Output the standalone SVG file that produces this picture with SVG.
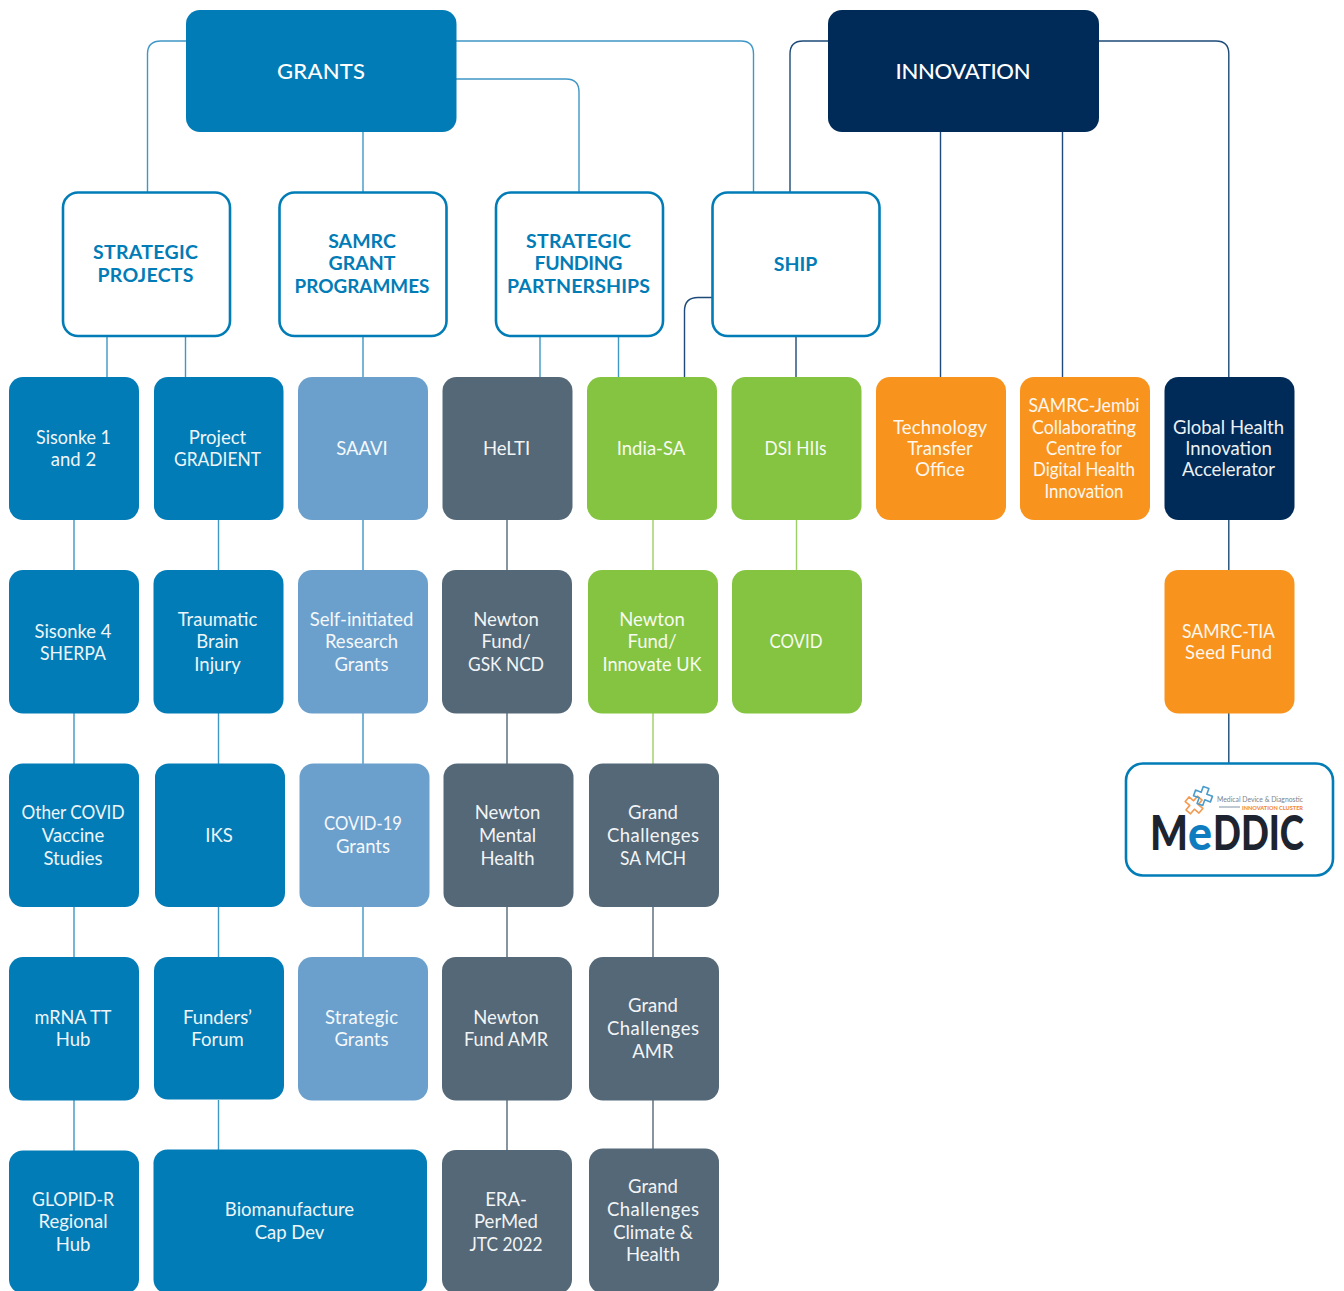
<svg xmlns="http://www.w3.org/2000/svg" width="1344" height="1291" viewBox="0 0 1344 1291">
<style>
text{font-family:"Lato","Noto Sans",sans-serif;text-anchor:middle}
.t{font-size:18.5px;fill:#fff;opacity:.93}
.h{font-size:19.5px;font-weight:700;fill:#027cb6}
.top{font-size:22px;font-weight:500;fill:#fff}
.frame{fill:#fff;stroke:#027cb6;stroke-width:2.6}
.blue{fill:#027cb6}.sky{fill:#6ba0cd}.slate{fill:#546878}.green{fill:#84c441}.orange{fill:#f8941e}.navy{fill:#002b58}
.c{fill:none;stroke-width:1.4}
.cb{stroke:#3f97c6}.cn{stroke:#1d4a78}.cg{stroke:#9ccf66}.cs{stroke:#546878}
.logo{text-anchor:start;font-size:48px;font-weight:900}
</style>
<g id="connectors">
<g class="c cb">
<path d="M186 41H161Q147.500 41 147.500 54V192"/>
<path d="M363 132V192"/>
<path d="M456 79H566Q579 79 579 92V192"/>
<path d="M456 41H741Q753.500 41 753.500 54V192"/>
<path d="M107 336V377M185.500 336V377M363 336V377M540 336V377M618.500 336V377"/>
<path d="M74 520V570M74 713V764M74 907V957M74 1100V1151"/>
<path d="M218.500 520V570M218.500 713V764M218.500 907V957M218.500 1100V1150"/>
<path d="M363 520V570M363 713V764M363 907V957"/>
</g>
<g class="c cn">
<path d="M828 41H803Q790 41 790 54V192"/>
<path d="M940.500 132V377M1062.500 132V377"/>
<path d="M1099 41H1216Q1228.800 41 1228.800 54V377"/>
<path d="M712 297.500H698Q684.500 297.500 684.500 311V377"/>
<path d="M796 336V377"/>
<path d="M1228.800 520V570M1228.800 713V763"/>
</g>
<g class="c cs">
<path d="M507 520V570M507 713V764M507 907V957M507 1100V1150"/>
<path d="M653 907V957M653 1100V1149"/>
</g>
<g class="c cg">
<path d="M653 520V570M653 713V764M796.500 520V570"/>
</g>
</g>

<g id="grants"><rect class="blue" x="186" y="10" width="270.500" height="122" rx="14"/><text class="top" x="321" y="79" textLength="88">GRANTS</text></g>
<g id="innovation"><rect class="navy" x="828" y="10" width="271" height="122" rx="14"/><text class="top" x="963" y="79" textLength="135">INNOVATION</text></g>

<g id="strategic-projects"><rect class="frame" x="63" y="192.500" width="167" height="143.500" rx="15"/><text class="h" x="145.500" y="259" textLength="105">STRATEGIC</text><text class="h" x="145.500" y="282" textLength="96">PROJECTS</text></g>
<g id="samrc-grant-programmes"><rect class="frame" x="279.500" y="192.500" width="167" height="143.500" rx="15"/><text class="h" x="362" y="248">SAMRC</text><text class="h" x="362" y="270">GRANT</text><text class="h" x="362" y="293" textLength="135" lengthAdjust="spacingAndGlyphs">PROGRAMMES</text></g>
<g id="strategic-funding-partnerships"><rect class="frame" x="496" y="192.500" width="167" height="143.500" rx="15"/><text class="h" x="578.500" y="248" textLength="105">STRATEGIC</text><text class="h" x="578.500" y="270" textLength="88">FUNDING</text><text class="h" x="578.500" y="293" textLength="143">PARTNERSHIPS</text></g>
<g id="ship"><rect class="frame" x="712.500" y="192.500" width="167" height="143.500" rx="15"/><text class="h" x="795.500" y="271">SHIP</text></g>

<g id="sisonke-1"><rect class="blue" x="9" y="377" width="130" height="143" rx="14"/><text class="t" x="73.500" y="444" textLength="75" lengthAdjust="spacingAndGlyphs">Sisonke 1</text><text class="t" x="73.500" y="466">and 2</text></g>
<g id="project-gradient"><rect class="blue" x="154" y="377" width="129.500" height="143" rx="14"/><text class="t" x="217.500" y="444">Project</text><text class="t" x="217.500" y="466" textLength="87" lengthAdjust="spacingAndGlyphs">GRADIENT</text></g>
<g id="saavi"><rect class="sky" x="298" y="377" width="130" height="143" rx="14"/><text class="t" x="362" y="455">SAAVI</text></g>
<g id="helti"><rect class="slate" x="442.500" y="377" width="130" height="143" rx="14"/><text class="t" x="506.500" y="455">HeLTI</text></g>
<g id="india-sa"><rect class="green" x="587" y="377" width="130" height="143" rx="14"/><text class="t" x="651" y="455">India-SA</text></g>
<g id="dsi-hiis"><rect class="green" x="731.500" y="377" width="130" height="143" rx="14"/><text class="t" x="795.500" y="455" textLength="62" lengthAdjust="spacingAndGlyphs">DSI HIIs</text></g>
<g id="tto"><rect class="orange" x="876" y="377" width="130" height="143" rx="14"/><text class="t" x="940" y="434" textLength="94">Technology</text><text class="t" x="940" y="455">Transfer</text><text class="t" x="940" y="476">Office</text></g>
<g id="samrc-jembi"><rect class="orange" x="1020" y="377" width="130" height="143" rx="14"/><text class="t" x="1084" y="412" textLength="111" lengthAdjust="spacingAndGlyphs">SAMRC-Jembi</text><text class="t" x="1084" y="434" textLength="104" lengthAdjust="spacingAndGlyphs">Collaborating</text><text class="t" x="1084" y="455" textLength="76" lengthAdjust="spacingAndGlyphs">Centre for</text><text class="t" x="1084" y="476" textLength="102" lengthAdjust="spacingAndGlyphs">Digital Health</text><text class="t" x="1084" y="498" textLength="79" lengthAdjust="spacingAndGlyphs">Innovation</text></g>
<g id="ghia"><rect class="navy" x="1164.500" y="377" width="130" height="143" rx="14"/><text class="t" x="1228.500" y="434">Global Health</text><text class="t" x="1228.500" y="455">Innovation</text><text class="t" x="1228.500" y="476">Accelerator</text></g>

<g id="sisonke-4"><rect class="blue" x="9" y="570" width="130" height="143.500" rx="14"/><text class="t" x="73" y="638" textLength="77" lengthAdjust="spacingAndGlyphs">Sisonke 4</text><text class="t" x="73" y="660" textLength="66" lengthAdjust="spacingAndGlyphs">SHERPA</text></g>
<g id="tbi"><rect class="blue" x="153.500" y="570" width="130" height="143.500" rx="14"/><text class="t" x="217.500" y="626">Traumatic</text><text class="t" x="217.500" y="648">Brain</text><text class="t" x="217.500" y="671">Injury</text></g>
<g id="self-initiated"><rect class="sky" x="298" y="570" width="130" height="143.500" rx="14"/><text class="t" x="361.500" y="626">Self-initiated</text><text class="t" x="361.500" y="648">Research</text><text class="t" x="361.500" y="671">Grants</text></g>
<g id="newton-gsk"><rect class="slate" x="442" y="570" width="130" height="143.500" rx="14"/><text class="t" x="506" y="626">Newton</text><text class="t" x="506" y="648">Fund/</text><text class="t" x="506" y="671" textLength="76" lengthAdjust="spacingAndGlyphs">GSK NCD</text></g>
<g id="newton-innovate"><rect class="green" x="588" y="570" width="130" height="143.500" rx="14"/><text class="t" x="652" y="626">Newton</text><text class="t" x="652" y="648">Fund/</text><text class="t" x="652" y="671" textLength="99" lengthAdjust="spacingAndGlyphs">Innovate UK</text></g>
<g id="covid"><rect class="green" x="732" y="570" width="130" height="143.500" rx="14"/><text class="t" x="796" y="648" textLength="53" lengthAdjust="spacingAndGlyphs">COVID</text></g>
<g id="seed-fund"><rect class="orange" x="1164.500" y="570" width="130" height="143.500" rx="14"/><text class="t" x="1228.500" y="638" textLength="93" lengthAdjust="spacingAndGlyphs">SAMRC-TIA</text><text class="t" x="1228.500" y="659" textLength="87">Seed Fund</text></g>

<g id="other-covid"><rect class="blue" x="9" y="763.500" width="130" height="143.500" rx="14"/><text class="t" x="73" y="819" textLength="103" lengthAdjust="spacingAndGlyphs">Other COVID</text><text class="t" x="73" y="842">Vaccine</text><text class="t" x="73" y="865">Studies</text></g>
<g id="iks"><rect class="blue" x="155" y="763.500" width="130" height="143.500" rx="14"/><text class="t" x="219" y="842">IKS</text></g>
<g id="covid-19"><rect class="sky" x="299.500" y="763.500" width="130" height="143.500" rx="14"/><text class="t" x="363" y="830" textLength="78" lengthAdjust="spacingAndGlyphs">COVID-19</text><text class="t" x="363" y="853">Grants</text></g>
<g id="newton-mental"><rect class="slate" x="443.500" y="763.500" width="130" height="143.500" rx="14"/><text class="t" x="507.500" y="819">Newton</text><text class="t" x="507.500" y="842">Mental</text><text class="t" x="507.500" y="865">Health</text></g>
<g id="gc-mch"><rect class="slate" x="589" y="763.500" width="130" height="143.500" rx="14"/><text class="t" x="653" y="819">Grand</text><text class="t" x="653" y="842" textLength="92">Challenges</text><text class="t" x="653" y="865" textLength="66" lengthAdjust="spacingAndGlyphs">SA MCH</text></g>

<g id="mrna"><rect class="blue" x="9" y="957" width="130" height="143.500" rx="14"/><text class="t" x="73" y="1024" textLength="77" lengthAdjust="spacingAndGlyphs">mRNA TT</text><text class="t" x="73" y="1046">Hub</text></g>
<g id="funders"><rect class="blue" x="154" y="957" width="130" height="142.500" rx="14"/><text class="t" x="217.500" y="1024">Funders’</text><text class="t" x="217.500" y="1046">Forum</text></g>
<g id="strategic-grants"><rect class="sky" x="298" y="957" width="130" height="143.500" rx="14"/><text class="t" x="361.500" y="1024" textLength="73">Strategic</text><text class="t" x="361.500" y="1046">Grants</text></g>
<g id="newton-amr"><rect class="slate" x="442" y="957" width="130" height="143.500" rx="14"/><text class="t" x="506" y="1024">Newton</text><text class="t" x="506" y="1046" textLength="84" lengthAdjust="spacingAndGlyphs">Fund AMR</text></g>
<g id="gc-amr"><rect class="slate" x="589" y="957" width="130" height="143.500" rx="14"/><text class="t" x="653" y="1012">Grand</text><text class="t" x="653" y="1035" textLength="92">Challenges</text><text class="t" x="653" y="1058">AMR</text></g>

<g id="glopid"><rect class="blue" x="9" y="1150.500" width="130" height="143" rx="14"/><text class="t" x="73" y="1206" textLength="82" lengthAdjust="spacingAndGlyphs">GLOPID-R</text><text class="t" x="73" y="1228">Regional</text><text class="t" x="73" y="1251">Hub</text></g>
<g id="biomanufacture"><rect class="blue" x="153.500" y="1149.500" width="273.500" height="144" rx="14"/><text class="t" x="289.500" y="1216">Biomanufacture</text><text class="t" x="289.500" y="1239">Cap Dev</text></g>
<g id="era-permed"><rect class="slate" x="442" y="1150" width="130" height="143.500" rx="14"/><text class="t" x="506" y="1206">ERA-</text><text class="t" x="506" y="1228">PerMed</text><text class="t" x="506" y="1251" textLength="73" lengthAdjust="spacingAndGlyphs">JTC 2022</text></g>
<g id="gc-climate"><rect class="slate" x="589" y="1148.500" width="130" height="145" rx="14"/><text class="t" x="653" y="1193">Grand</text><text class="t" x="653" y="1216" textLength="92">Challenges</text><text class="t" x="653" y="1239">Climate &amp;</text><text class="t" x="653" y="1261">Health</text></g>

<g id="meddic">
<rect class="frame" x="1126" y="763.500" width="207" height="112" rx="17"/>
<path fill="none" stroke="#f39a50" stroke-width="1.6" stroke-linejoin="round" transform="rotate(40 1194 805)" d="M1191 796h6v6h6v6h-6v6h-6v-6h-6v-6h6z"/>
<path fill="none" stroke="#4a9ccd" stroke-width="1.6" stroke-linejoin="round" transform="rotate(20 1203 796)" d="M1200 787h6v6h6v6h-6v6h-6v-6h-6v-6h6z"/>
<text x="1260" y="801.500" style="font-size:7px" fill="#7b838b" textLength="86" lengthAdjust="spacingAndGlyphs">Medical Device &amp; Diagnostic</text>
<path d="M1219 807h21" stroke="#7f93a3" stroke-width="1"/>
<text x="1272.500" y="809.500" style="font-size:5.500px;font-weight:900" fill="#f08a3c" textLength="61" lengthAdjust="spacingAndGlyphs">INNOVATION CLUSTER</text>
<text class="logo" x="1150" y="850" fill="#1d2430" textLength="38" lengthAdjust="spacingAndGlyphs">M</text>
<text class="logo" x="1188" y="850" fill="#0f7cc0" textLength="24" lengthAdjust="spacingAndGlyphs">e</text>
<text class="logo" x="1213" y="850" fill="#1d2430" textLength="91" lengthAdjust="spacingAndGlyphs">DDIC</text>
</g>
</svg>
